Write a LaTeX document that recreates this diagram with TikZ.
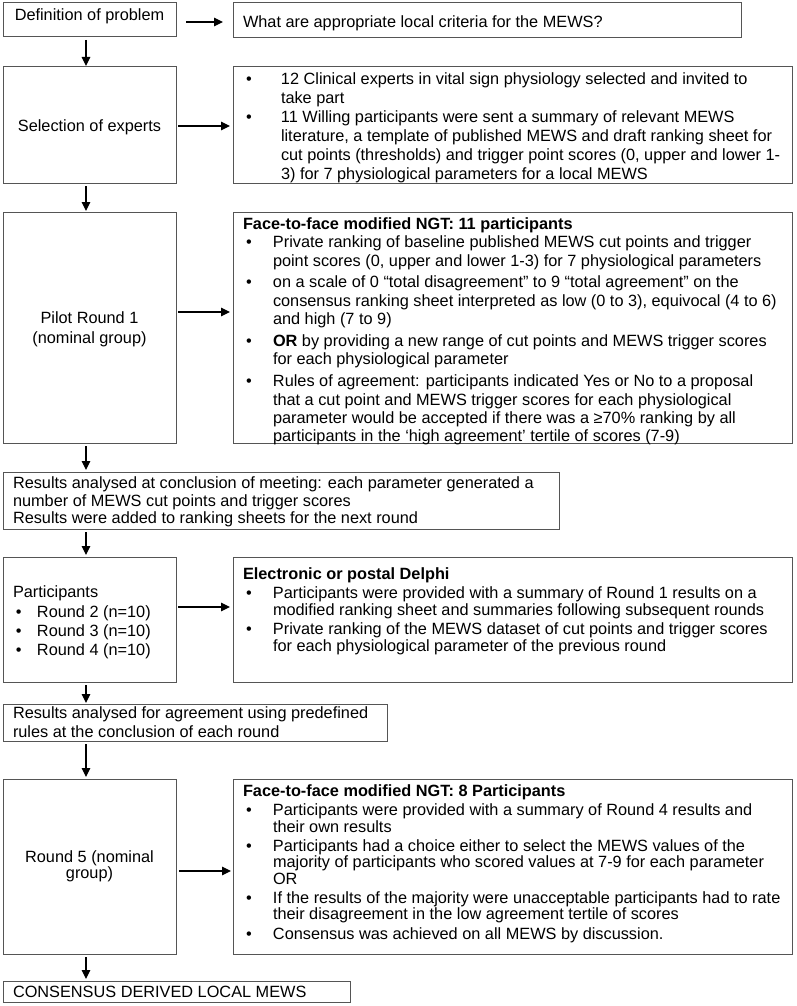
\documentclass[tikz,border=0pt]{standalone}
\usepackage{fontspec}
\setmainfont{Liberation Sans}
\usetikzlibrary{arrows.meta}
\definecolor{bd}{RGB}{85,85,85}
\newlength\bi
\newlength\bo
\newcommand\Ln[1]{\noindent\mbox{\hspace*{10pt}\rule{0pt}{12pt}#1}\par}
\newcommand\Bl[1]{\noindent\mbox{\hspace*{10pt}\rule{0pt}{12pt}\makebox[\bi][l]{\hspace*{\bo}\textbullet}#1}\par}
\newcommand\Cl[1]{\noindent\mbox{\hspace*{10pt}\rule{0pt}{12pt}\hspace*{\bi}#1}\par}
\newcommand\Cn[1]{\noindent\makebox[\linewidth][c]{\rule{0pt}{12pt}#1}\par}
\newcommand\Bx[4]{\parbox[c][#2][t]{#1}{\fontsize{16.3pt}{#3}\selectfont\lineskiplimit=-100pt\parskip=0pt\parindent=0pt #4}}
\begin{document}
\begin{tikzpicture}[x=1pt,y=-1pt,
  box/.style={draw=bd, line width=1pt, inner sep=0pt, outer sep=0pt, anchor=north west},
  arr/.style={-{Triangle[length=9pt,width=8.5pt]}, line width=1.2pt, black}]
\useasboundingbox (0,0) rectangle (796,1006);

% row 1
\node[box] (b1) at (3,3) {\Bx{173pt}{34pt}{18.3pt}{\vspace*{5.5pt}\Cn{Definition of problem}}};
\node[box] (b2) at (233,3) {\Bx{508pt}{35pt}{18.3pt}{\vspace*{13pt}\Ln{What are appropriate local criteria for the MEWS?}}};

% row 2
\node[box] (b3) at (3,67) {\Bx{173pt}{116pt}{18.3pt}{\vspace*{52.5pt}\Cn{Selection of experts}}};
\node[box] (b4) at (233,67) {\Bx{559pt}{116pt}{19pt}{\setlength\bi{38pt}\setlength\bo{3pt}\vspace*{6pt}%
\Bl{12 Clinical experts in vital sign physiology selected and invited to}
\Cl{take part}
\Bl{11 Willing participants were sent a summary of relevant MEWS}
\Cl{literature, a template of published MEWS and draft ranking sheet for}
\Cl{cut points (thresholds) and trigger point scores (0, upper and lower 1-}
\Cl{3) for 7 physiological parameters for a local MEWS}}};

% row 3
\node[box] (b5) at (3,212) {\Bx{173pt}{231pt}{20pt}{\vspace*{99.5pt}\Cn{Pilot Round 1}\Cn{(nominal group)}}};
\node[box] (b6) at (233,212) {\Bx{559pt}{231pt}{18.4pt}{\setlength\bi{30pt}\setlength\bo{3pt}\vspace*{5.3pt}%
\Ln{\textbf{Face-to-face modified NGT: 11 participants}}
\Bl{Private ranking of baseline published MEWS cut points and trigger}
\Cl{point scores (0, upper and lower 1-3) for 7 physiological parameters}
\vspace{3.4pt}
\Bl{on a scale of 0 “total disagreement” to 9 “total agreement” on the}
\Cl{consensus ranking sheet interpreted as low (0 to 3), equivocal (4 to 6)}
\Cl{and high (7 to 9)}
\vspace{3.4pt}
\Bl{\textbf{OR} by providing a new range of cut points and MEWS trigger scores}
\Cl{for each physiological parameter}
\vspace{3.4pt}
\Bl{Rules of agreement: participants indicated Yes or No to a proposal}
\Cl{that a cut point and MEWS trigger scores for each physiological}
\Cl{parameter would be accepted if there was a ≥70\% ranking by all}
\Cl{participants in the ‘high agreement’ tertile of scores (7-9)}}};

% row 4
\node[box] (b7) at (3,472) {\Bx{556pt}{57pt}{17.5pt}{\vspace*{4.5pt}%
\Ln{Results analysed at conclusion of meeting: each parameter generated a}
\Ln{number of MEWS cut points and trigger scores}
\Ln{Results were added to ranking sheets for the next round}}};

% row 5
\node[box] (b8) at (3,557) {\Bx{173pt}{125pt}{19pt}{\setlength\bi{24pt}\setlength\bo{3pt}\vspace*{28.5pt}%
\Ln{Participants}
\vspace{1pt}
\Bl{Round 2 (n=10)}
\Bl{Round 3 (n=10)}
\Bl{Round 4 (n=10)}}};
\node[box] (b9) at (233,557) {\Bx{559pt}{125pt}{16.8pt}{\setlength\bi{30pt}\setlength\bo{3pt}\vspace*{10.5pt}%
\Ln{\textbf{Electronic or postal Delphi}}
\vspace{2.5pt}
\Bl{Participants were provided with a summary of Round 1 results on a}
\Cl{modified ranking sheet and summaries following subsequent rounds}
\vspace{2.5pt}
\Bl{Private ranking of the MEWS dataset of cut points and trigger scores}
\Cl{for each physiological parameter of the previous round}}};

% row 6
\node[box] (b10) at (3,704) {\Bx{384pt}{37pt}{19pt}{\vspace*{2.5pt}%
\Ln{Results analysed for agreement using predefined}
\Ln{rules at the conclusion of each round}}};

% row 7
\node[box] (b11) at (3,779) {\Bx{173pt}{175pt}{16pt}{\vspace*{71.5pt}\Cn{Round 5 (nominal}\Cn{group)}}};
\node[box] (b12) at (233,779) {\Bx{559pt}{175pt}{16.5pt}{\setlength\bi{30pt}\setlength\bo{3pt}\vspace*{5.5pt}%
\Ln{\textbf{Face-to-face modified NGT: 8 Participants}}
\vspace{2.5pt}
\Bl{Participants were provided with a summary of Round 4 results and}
\Cl{their own results}
\vspace{2.5pt}
\Bl{Participants had a choice either to select the MEWS values of the}
\Cl{majority of participants who scored values at 7-9 for each parameter}
\Cl{OR}
\vspace{2.5pt}
\Bl{If the results of the majority were unacceptable participants had to rate}
\Cl{their disagreement in the low agreement tertile of scores}
\vspace{3pt}
\Bl{Consensus was achieved on all MEWS by discussion.}}};

% row 8
\node[box] (b13) at (3,981) {\Bx{347pt}{21pt}{16pt}{\vspace*{4.5pt}\Ln{CONSENSUS DERIVED LOCAL MEWS}}};

% connectors
\coordinate (vx) at (86,0);
\draw[arr, shorten <=3pt, shorten >=1pt] (b1.south -| vx) -- (b3.north -| vx);
\draw[arr, shorten <=3pt, shorten >=1pt] (b3.south -| vx) -- (b5.north -| vx);
\draw[arr, shorten <=3pt, shorten >=2pt] (b5.south -| vx) -- (b7.north -| vx);
\draw[arr, shorten <=3pt, shorten >=2pt] (b7.south -| vx) -- (b8.north -| vx);
\draw[arr, shorten <=3pt, shorten >=1pt] (b8.south -| vx) -- (b10.north -| vx);
\draw[arr, shorten <=3pt, shorten >=2pt] (b10.south -| vx) -- (b11.north -| vx);
\draw[arr, shorten <=3pt, shorten >=2pt] (b11.south -| vx) -- (b13.north -| vx);

\draw[arr, shorten <=10pt, shorten >=10pt] ([yshift=-2pt]b1.east) -- ([yshift=-2pt]b1.east -| b2.west);
\draw[arr, shorten <=2pt, shorten >=3pt] ([yshift=-1pt]b3.east) -- ([yshift=-1pt]b3.east -| b4.west);
\draw[arr, shorten <=2pt, shorten >=3pt] ([yshift=15.5pt]b5.east) -- ([yshift=15.5pt]b5.east -| b6.west);
\draw[arr, shorten <=2pt, shorten >=3pt] ([yshift=12.5pt]b8.east) -- ([yshift=12.5pt]b8.east -| b9.west);
\draw[arr, shorten <=3pt, shorten >=2pt] ([yshift=-4.5pt]b11.east) -- ([yshift=-4.5pt]b11.east -| b12.west);
\end{tikzpicture}
\end{document}
